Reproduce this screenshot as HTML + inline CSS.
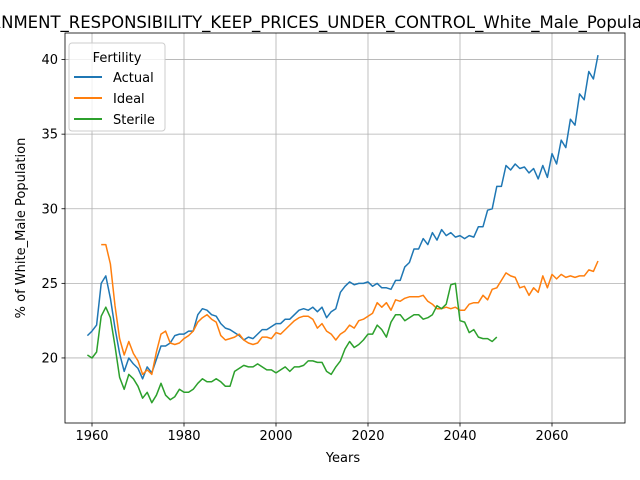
<!DOCTYPE html>
<html><head><meta charset="utf-8"><style>body{margin:0;background:#fff}svg{display:block;font-family:"DejaVu Sans","Liberation Sans",sans-serif}</style></head>
<body>
<svg id="chart" width="640" height="480">
<text x="308" y="28" font-size="16.5" text-anchor="middle" fill="#000">GOVERNMENT_RESPONSIBILITY_KEEP_PRICES_UNDER_CONTROL_White_Male_Population</text>
<g id="grid"></g><g id="series"></g><g id="axes"></g>
<g>
<rect x="69" y="43" width="96" height="88" rx="3" fill="#fff" fill-opacity="0.8" stroke="#ccc"/>
<text x="117" y="62" font-size="13" text-anchor="middle">Fertility</text>
<line x1="74" y1="77" x2="102" y2="77" stroke="#1f77b4" stroke-width="2"/><text x="113" y="82" font-size="13">Actual</text>
<line x1="74" y1="98" x2="102" y2="98" stroke="#ff7f0e" stroke-width="2"/><text x="113" y="103" font-size="13">Ideal</text>
<line x1="74" y1="119" x2="102" y2="119" stroke="#2ca02c" stroke-width="2"/><text x="113" y="124" font-size="13">Sterile</text>
</g>
<text x="343" y="462" font-size="13" text-anchor="middle">Years</text>
<text transform="translate(25,228) rotate(-90)" font-size="13" text-anchor="middle">% of White_Male Population</text>
</svg>
<script>
const actualStart = 1959;
const actualValues = [21.5,21.8,22.2,25.0,25.5,24.0,22.0,20.3,19.1,20.0,19.6,19.3,18.6,19.4,19.0,19.9,20.8,20.8,21.0,21.5,21.6,21.6,21.8,21.8,22.9,23.3,23.2,22.9,22.8,22.3,22.0,21.9,21.7,21.5,21.2,21.4,21.3,21.6,21.9,21.9,22.1,22.3,22.3,22.6,22.6,22.9,23.2,23.3,23.2,23.4,23.1,23.4,22.7,23.1,23.3,24.4,24.8,25.1,24.9,25.0,25.0,25.1,24.8,25.0,24.7,24.7,24.6,25.2,25.2,26.1,26.4,27.3,27.3,28.0,27.6,28.4,27.9,28.6,28.2,28.4,28.1,28.2,28.0,28.2,28.1,28.8,28.8,29.9,30.0,31.5,31.5,32.9,32.6,33.0,32.7,32.8,32.4,32.7,32.0,32.9,32.1,33.7,33.0,34.6,34.1,36.0,35.6,37.7,37.3,39.2,38.7,40.3];
const idealStart = 1962;
const idealValues = [27.6,27.6,26.3,23.5,21.3,20.2,21.1,20.3,19.8,18.9,19.2,18.9,20.4,21.6,21.8,21.0,20.9,21.0,21.3,21.5,21.8,22.4,22.7,22.9,22.6,22.4,21.5,21.2,21.3,21.4,21.6,21.2,21.0,20.9,21.0,21.4,21.4,21.3,21.7,21.6,21.9,22.2,22.5,22.7,22.8,22.8,22.6,22.0,22.3,21.8,21.6,21.2,21.6,21.8,22.2,22.0,22.5,22.6,22.8,23.0,23.7,23.4,23.7,23.2,23.9,23.8,24.0,24.1,24.1,24.1,24.2,23.8,23.6,23.3,23.3,23.4,23.3,23.4,23.2,23.2,23.6,23.7,23.7,24.2,23.9,24.6,24.7,25.2,25.7,25.5,25.4,24.7,24.8,24.2,24.7,24.4,25.5,24.7,25.6,25.3,25.6,25.4,25.5,25.4,25.5,25.5,25.9,25.8,26.5];
const sterileStart = 1959;
const sterileValues = [20.2,20.0,20.4,22.8,23.4,22.7,20.8,18.7,17.9,18.9,18.6,18.1,17.3,17.7,17.0,17.5,18.3,17.5,17.2,17.4,17.9,17.7,17.7,17.9,18.3,18.6,18.4,18.4,18.6,18.4,18.1,18.1,19.1,19.3,19.5,19.4,19.4,19.6,19.4,19.2,19.2,19.0,19.2,19.4,19.1,19.4,19.4,19.5,19.8,19.8,19.7,19.7,19.1,18.9,19.4,19.8,20.6,21.1,20.7,20.9,21.2,21.6,21.6,22.2,21.9,21.4,22.4,22.9,22.9,22.5,22.7,22.9,22.9,22.6,22.7,22.9,23.5,23.3,23.6,24.9,25.0,22.5,22.4,21.7,21.9,21.4,21.3,21.3,21.1,21.4];
const xTicks = [1960,1980,2000,2020,2040,2060];
const yTicks = [20,25,30,35,40];

const L=65,R=625,T=33,B=423;
const X0=1954.13,X1=2075.87,Y0=15.64,Y1=41.78;
function xs(v){return L+(v-X0)/(X1-X0)*(R-L);}
function ys(v){return B-(v-Y0)/(Y1-Y0)*(B-T);}
const NS="http://www.w3.org/2000/svg";
function mk(tag,attrs,parent){const e=document.createElementNS(NS,tag);for(const k in attrs)e.setAttribute(k,attrs[k]);parent.appendChild(e);return e;}
const grid=document.getElementById('grid'),axes=document.getElementById('axes'),ser=document.getElementById('series');
xTicks.forEach(t=>{const x=xs(t);
 const g=mk('line',{x1:x,x2:x,y1:T,y2:B,stroke:'#b0b0b0','stroke-width':0.8},grid);
 
 
 mk('line',{x1:x,x2:x,y1:B,y2:B+3.5,stroke:'#000','stroke-width':0.8},axes);
 const tx=mk('text',{x:x,y:B+17,'font-size':13,'text-anchor':'middle'},axes);tx.textContent=t;
 
 
});
yTicks.forEach(t=>{const y=ys(t);
 const g=mk('line',{x1:L,x2:R,y1:y,y2:y,stroke:'#b0b0b0','stroke-width':0.8},grid);
 
 
 mk('line',{x1:L-3.5,x2:L,y1:y,y2:y,stroke:'#000','stroke-width':0.8},axes);
 const tx=mk('text',{x:L-7,y:y+4.5,'font-size':13,'text-anchor':'end'},axes);tx.textContent=t;
 
 
});
const frame=mk('rect',{x:L,y:T,width:R-L,height:B-T,fill:'none',stroke:'#000','stroke-width':0.8},axes);


function line(start,vals,color,name){
 const pts=vals.map((v,i)=>xs(start+i).toFixed(1)+','+ys(v).toFixed(1)).join(' ');
 const p=mk('polyline',{points:pts,fill:'none',stroke:color,'stroke-width':1.5,'stroke-linejoin':'round'},ser);
 
 
}
line(actualStart,actualValues,'#1f77b4','actual-line');
line(idealStart,idealValues,'#ff7f0e','ideal-line');
line(sterileStart,sterileValues,'#2ca02c','sterile-line');
</script>
</body></html>
